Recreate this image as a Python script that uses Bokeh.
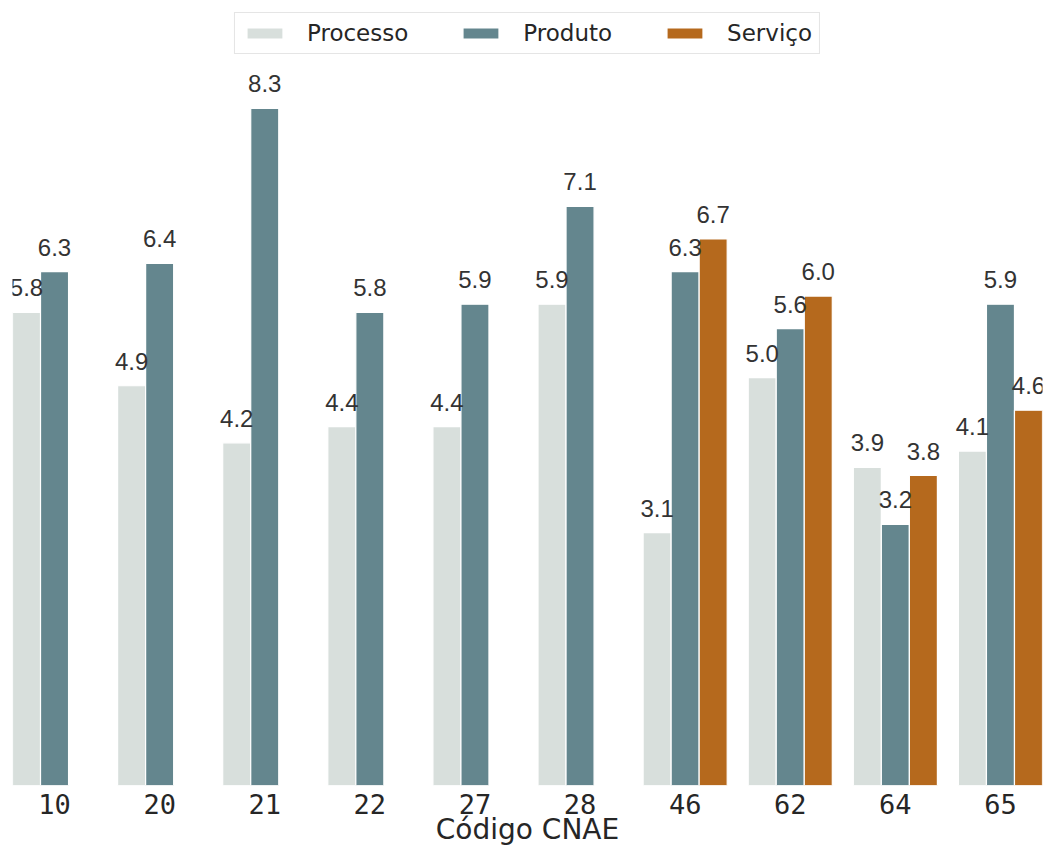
from bokeh.plotting import figure
from bokeh.models import ColumnDataSource, Range1d, FixedTicker, LabelSet, Legend, LegendItem
from bokeh.transform import dodge
from bokeh.core.properties import value
from bokeh.embed import file_html
from bokeh.resources import INLINE

categories = ["10", "20", "21", "22", "27", "28", "46", "62", "64", "65"]
processo = [5.8, 4.9, 4.2, 4.4, 4.4, 5.9, 3.1, 5.0, 3.9, 4.1]
produto = [6.3, 6.4, 8.3, 5.8, 5.9, 7.1, 6.3, 5.6, 3.2, 5.9]
servico_cats = ["46", "62", "64", "65"]
servico = [6.7, 6.0, 3.8, 4.6]

series_names = ["Processo", "Produto", "Serviço"]
colors = ["#d8dfdc", "#64868e", "#b5691d"]

xpos = {c: i for i, c in enumerate(categories)}
src_proc = ColumnDataSource(dict(x=[xpos[c] for c in categories], v=processo,
                                 t=[f"{v:.1f}" for v in processo]))
src_prod = ColumnDataSource(dict(x=[xpos[c] for c in categories], v=produto,
                                 t=[f"{v:.1f}" for v in produto]))
src_serv = ColumnDataSource(dict(x=[xpos[c] for c in servico_cats], v=servico,
                                 t=[f"{v:.1f}" for v in servico]))

bw = 0.8 / 3
p = figure(width=1046, height=848, output_backend="svg", toolbar_location=None,
           x_range=Range1d(-0.4, 9.4), y_range=Range1d(0, 9.5),
           y_axis_type=None, min_border_left=12, min_border_right=4,
           min_border_top=10, min_border_bottom=63)
p.outline_line_color = None
p.xgrid.visible = False
p.ygrid.visible = False
p.background_fill_color = "white"

renderers = []
for src, off, col in [(src_proc, -bw, colors[0]), (src_prod, 0, colors[1]), (src_serv, bw, colors[2])]:
    r = p.vbar(x=dodge("x", off), top="v", width=bw, source=src,
               fill_color=col, line_color="white", line_width=1.2)
    renderers.append(r)
    lbl = LabelSet(x=dodge("x", off), y="v", text="t", source=src,
                   text_align="center", text_baseline="alphabetic", y_offset=16,
                   text_font=value("Liberation Sans"), text_font_size="24px",
                   text_color="#333333")
    p.add_layout(lbl)

ax = p.xaxis[0]
ax.ticker = FixedTicker(ticks=list(range(len(categories))))
ax.major_label_overrides = {i: c for i, c in enumerate(categories)}
ax.axis_line_color = None
ax.major_tick_line_color = None
ax.minor_tick_line_color = None
ax.major_label_text_font = "DejaVu Sans Mono"
ax.major_label_text_font_size = "27px"
ax.major_label_text_color = "#262626"
ax.major_label_standoff = 2
ax.axis_label = "Código CNAE"
ax.axis_label_text_font = "DejaVu Sans"
ax.axis_label_text_font_style = "normal"
ax.axis_label_text_font_size = "28px"
ax.axis_label_text_color = "#262626"
ax.axis_label_standoff = -4

legend = Legend(items=[LegendItem(label=n, renderers=[r]) for n, r in zip(series_names, renderers)],
                orientation="horizontal", location="top_center",
                glyph_width=45, glyph_height=14, label_standoff=20, spacing=50,
                padding=7, margin=2,
                label_text_font="DejaVu Sans", label_text_font_size="23px", label_text_color="#262626",
                border_line_color="#cccccc", border_line_width=1,
                background_fill_color="white", background_fill_alpha=1.0)
p.add_layout(legend, "center")

open("out.html", "w").write(file_html(p, INLINE))
